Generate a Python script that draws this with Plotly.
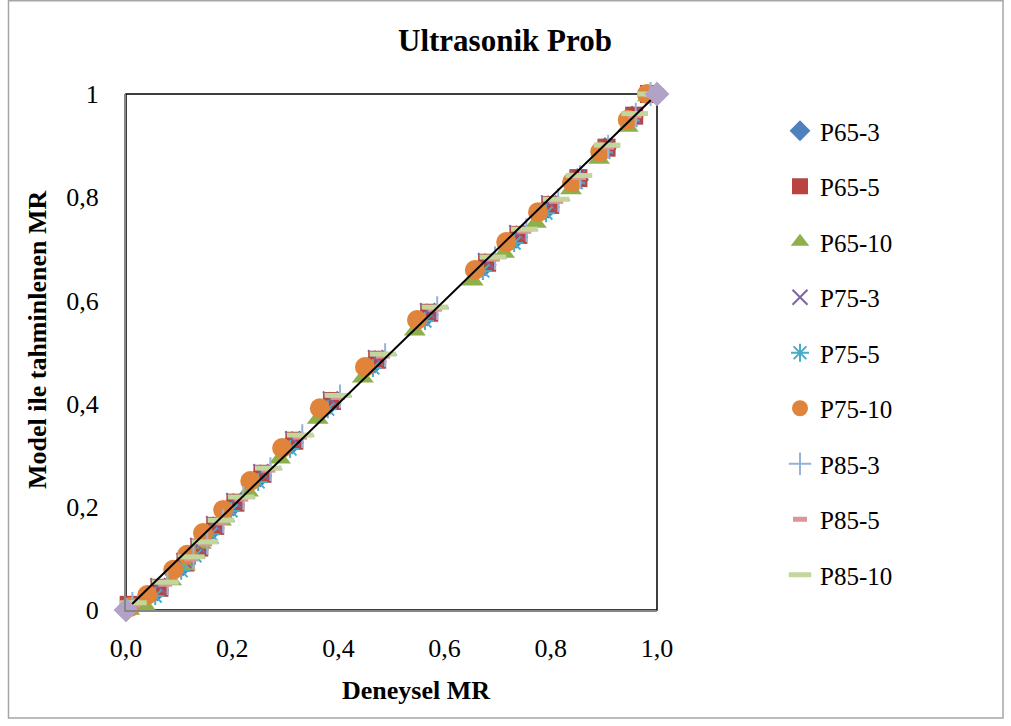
import plotly.graph_objects as go

# Deneysel (experimental) and model-predicted MR values for each drying condition
p65_3_x = [0.000, 0.059, 0.108, 0.134, 0.164, 0.202, 0.253, 0.313, 0.384, 0.469, 0.567, 0.676, 0.735, 0.795, 0.850, 0.902, 0.953, 1.000]
p65_3_y = [0.000, 0.039, 0.088, 0.117, 0.159, 0.204, 0.260, 0.324, 0.401, 0.481, 0.572, 0.669, 0.723, 0.781, 0.834, 0.894, 0.955, 1.000]

p65_5_x = [0.005, 0.063, 0.112, 0.138, 0.168, 0.206, 0.257, 0.317, 0.388, 0.473, 0.571, 0.680, 0.739, 0.799, 0.852, 0.905, 0.957, 0.985]
p65_5_y = [0.010, 0.043, 0.092, 0.121, 0.163, 0.208, 0.264, 0.328, 0.405, 0.485, 0.576, 0.673, 0.727, 0.785, 0.837, 0.896, 0.958, 1.000]

p65_10_x = [0.006, 0.036, 0.085, 0.111, 0.141, 0.179, 0.230, 0.290, 0.361, 0.446, 0.544, 0.653, 0.712, 0.772, 0.838, 0.891, 0.945, 0.983]
p65_10_y = [0.000, 0.008, 0.057, 0.086, 0.128, 0.173, 0.229, 0.293, 0.370, 0.450, 0.541, 0.638, 0.692, 0.750, 0.815, 0.874, 0.936, 0.995]

p75_3_x = [0.010, 0.060, 0.109, 0.135, 0.165, 0.203, 0.254, 0.314, 0.385, 0.470, 0.568, 0.677, 0.736, 0.796, 0.851, 0.903, 0.955, 0.985]
p75_3_y = [0.012, 0.047, 0.096, 0.125, 0.167, 0.212, 0.268, 0.332, 0.409, 0.489, 0.580, 0.677, 0.731, 0.789, 0.838, 0.897, 0.958, 1.000]

p75_5_x = [0.008, 0.055, 0.104, 0.130, 0.160, 0.198, 0.249, 0.309, 0.380, 0.465, 0.563, 0.672, 0.731, 0.791, 0.848, 0.900, 0.951, 0.985]
p75_5_y = [0.004, 0.027, 0.076, 0.105, 0.147, 0.192, 0.248, 0.312, 0.389, 0.469, 0.560, 0.657, 0.711, 0.769, 0.828, 0.887, 0.949, 1.000]

p75_10_x = [0.008, 0.040, 0.089, 0.115, 0.145, 0.183, 0.234, 0.294, 0.365, 0.450, 0.548, 0.657, 0.716, 0.776, 0.840, 0.893, 0.945, 0.981]
p75_10_y = [0.006, 0.029, 0.078, 0.107, 0.149, 0.194, 0.250, 0.314, 0.391, 0.471, 0.562, 0.659, 0.713, 0.771, 0.829, 0.888, 0.950, 1.000]

p85_3_x = [0.012, 0.078, 0.127, 0.153, 0.183, 0.221, 0.272, 0.332, 0.403, 0.488, 0.586, 0.695, 0.754, 0.814, 0.855, 0.908, 0.960, 0.988]
p85_3_y = [0.012, 0.052, 0.101, 0.130, 0.172, 0.217, 0.273, 0.337, 0.414, 0.494, 0.585, 0.682, 0.736, 0.794, 0.839, 0.898, 0.960, 1.000]

p85_5_x = [0.014, 0.074, 0.123, 0.149, 0.179, 0.217, 0.268, 0.328, 0.399, 0.484, 0.582, 0.691, 0.750, 0.810, 0.853, 0.906, 0.958, 0.988]
p85_5_y = [0.010, 0.050, 0.099, 0.128, 0.170, 0.215, 0.271, 0.335, 0.412, 0.492, 0.583, 0.680, 0.734, 0.792, 0.838, 0.897, 0.958, 0.998]

p85_10_x = [0.014, 0.074, 0.123, 0.149, 0.179, 0.217, 0.268, 0.328, 0.399, 0.484, 0.582, 0.691, 0.750, 0.810, 0.853, 0.906, 0.958, 0.988]
p85_10_y = [0.014, 0.054, 0.103, 0.132, 0.174, 0.219, 0.275, 0.339, 0.416, 0.496, 0.587, 0.684, 0.738, 0.796, 0.842, 0.901, 0.962, 1.000]

# 1:1 reference line
ref_x = [0.0, 1.0]
ref_y = [0.0, 1.0]

x_tick_vals = [0.0, 0.2, 0.4, 0.6, 0.8, 1.0]
y_tick_vals = [0.0, 0.2, 0.4, 0.6, 0.8, 1.0]
y_tick_text = ["0", "0,2", "0,4", "0,6", "0,8", "1"]

FONT = "Liberation Serif, Times New Roman, serif"

series = [
    ("P65-3", p65_3_x, p65_3_y, dict(symbol="diamond", size=18, color="#4F81BD")),
    ("P65-5", p65_5_x, p65_5_y, dict(symbol="square", size=18, color="#B8433F")),
    ("P65-10", p65_10_x, p65_10_y, dict(symbol="triangle-up", size=19, color="#8DB04B")),
    ("P75-3", p75_3_x, p75_3_y, dict(symbol="x-thin", size=15, color="#8064A2",
                                     line=dict(color="#8064A2", width=2))),
    ("P75-5", p75_5_x, p75_5_y, dict(symbol="asterisk-open", size=15, color="#4BACC6",
                                     line=dict(color="#4BACC6", width=2))),
    ("P75-10", p75_10_x, p75_10_y, dict(symbol="circle", size=20, color="#E0843C")),
    ("P85-3", p85_3_x, p85_3_y, dict(symbol="cross-thin", size=17, color="#95B3D7",
                                     line=dict(color="#95B3D7", width=2))),
    ("P85-5", p85_5_x, p85_5_y, dict(symbol="line-ew", size=10, color="#D99694",
                                     line=dict(color="#D99694", width=5))),
    ("P85-10", p85_10_x, p85_10_y, dict(symbol="line-ew", size=19, color="#C3D69B",
                                      line=dict(color="#C3D69B", width=5))),
]

fig = go.Figure()
for name, xs, ys, mk in series:
    fig.add_trace(go.Scatter(
        x=xs, y=ys, mode="markers", name=name, marker=mk,
        cliponaxis=False, legendgroup=name,
    ))

fig.add_trace(go.Scatter(
    x=ref_x, y=ref_y, mode="lines+markers", showlegend=False,
    line=dict(color="black", width=2),
    marker=dict(symbol="diamond", size=19, color="#B3A2C7"),
    cliponaxis=False,
))

L, R, T, B = 126, 354, 94, 116
W, H = 1011, 726
pw, ph = W - L - R, H - T - B


def px(xp):
    return (xp - L) / pw


def py(yp):
    return (H - B - yp) / ph


fig.update_layout(
    width=W, height=H,
    margin=dict(l=L, r=R, t=T, b=B),
    paper_bgcolor="white", plot_bgcolor="white",
    separators=",.",
    font=dict(family=FONT, size=26, color="black"),
    showlegend=True,
    legend=dict(
        x=px(780), y=py(108), xanchor="left", yanchor="top",
        font=dict(family=FONT, size=25, color="black"),
        tracegroupgap=20, itemwidth=30,
        bgcolor="rgba(0,0,0,0)",
    ),
    xaxis=dict(
        range=[0, 1], tickvals=x_tick_vals, tickformat=".1f",
        showgrid=False, zeroline=False, showline=True,
        linecolor="#868686", linewidth=2, ticks="",
        ticklabelstandoff=14,
        tickfont=dict(family=FONT, size=26, color="black"),
    ),
    yaxis=dict(
        range=[0, 1], tickvals=y_tick_vals, ticktext=y_tick_text,
        showgrid=False, zeroline=False, showline=True,
        linecolor="#868686", linewidth=2, ticks="",
        ticklabelstandoff=20,
        tickfont=dict(family=FONT, size=26, color="black"),
    ),
    shapes=[
        # plot area frame
        dict(type="rect", xref="paper", yref="paper", x0=0, x1=1, y0=0, y1=1,
             line=dict(color="black", width=1.5), layer="below"),
        # chart area border
        dict(type="rect", xref="paper", yref="paper",
             x0=px(8.5), x1=px(1003), y0=py(718), y1=py(0.8),
             line=dict(color="#A6A6A6", width=1.5), layer="below"),
    ],
    annotations=[
        dict(text="<b>Ultrasonik Prob</b>", xref="paper", yref="paper",
             x=px(505), y=py(40), xanchor="center", yanchor="middle",
             showarrow=False, font=dict(family=FONT, size=31, color="black")),
        dict(text="<b>Deneysel MR</b>", xref="paper", yref="paper",
             x=px(416), y=py(690), xanchor="center", yanchor="middle",
             showarrow=False, font=dict(family=FONT, size=26, color="black")),
        dict(text="<b>Model ile tahminlenen MR</b>", xref="paper", yref="paper",
             x=px(37), y=py(340), xanchor="center", yanchor="middle",
             textangle=-90, showarrow=False,
             font=dict(family=FONT, size=26, color="black")),
    ],
)

fig.write_html("out.html")
